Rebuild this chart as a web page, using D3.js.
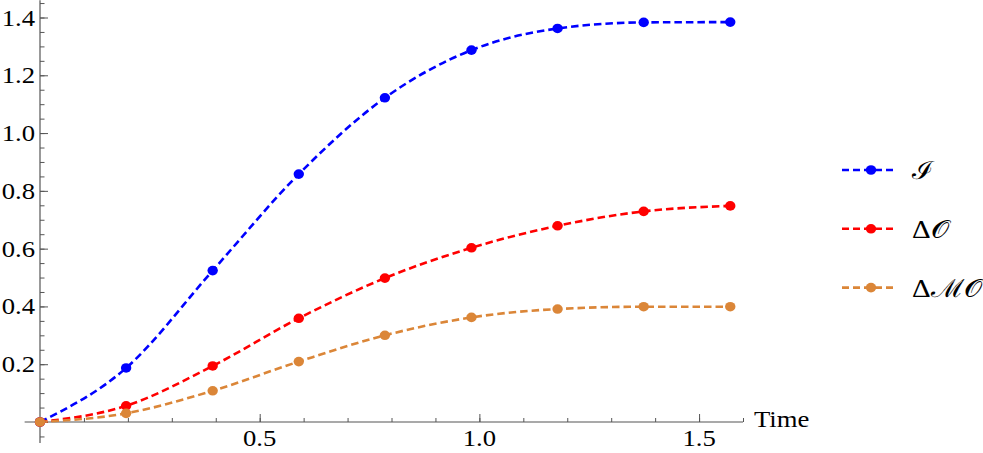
<!DOCTYPE html>
<html>
<head>
<meta charset="utf-8">
<script src="https://cdn.jsdelivr.net/npm/d3@7"></script>
<style>
  html, body { margin: 0; padding: 0; background: #fff; }
  svg { display: block; }
  .tick-label { font-family: "Liberation Serif", "DejaVu Serif", serif; font-size: 23px; fill: #000; }
  .legend-label { font-family: "Liberation Serif", "DejaVu Serif", serif; font-size: 25px; fill: #000; }
</style>
</head>
<body>
<div id="chart"></div>
<script>
const times = [0, 0.196, 0.393, 0.589, 0.785, 0.982, 1.178, 1.374, 1.571];
const valuesI = [0, 0.187, 0.524, 0.858, 1.122, 1.287, 1.362, 1.383, 1.384];
const valuesDeltaO = [0, 0.056, 0.194, 0.359, 0.498, 0.603, 0.679, 0.729, 0.748];
const valuesDeltaMO = [0, 0.030, 0.108, 0.209, 0.300, 0.362, 0.391, 0.399, 0.399];
// [upright prefix, script symbol]
const seriesNames = [["", "\u2110"], ["\u0394", "\uD835\uDCAA"], ["\u0394", "\u2133\uD835\uDCAA"]];
const seriesColors = ["#0000ff", "#ff0000", "#db8638"];
const yTickLabels = [0.2, 0.4, 0.6, 0.8, 1.0, 1.2, 1.4];
const xTickLabels = [0.5, 1.0, 1.5];
const xAxisTitle = "Time";

const width = 983;
const height = 453;
const stretch = 1.16;
const axisColor = "#555";

const series = [valuesI, valuesDeltaO, valuesDeltaMO].map((values, i) => ({
  name: seriesNames[i],
  color: seriesColors[i],
  points: values.map((v, j) => ({ t: times[j], v })),
}));

const x = d3.scaleLinear().domain([0, 1.6]).range([40, 743]);
const y = d3.scaleLinear().domain([0, 1.4]).range([422, 17.5]);

const svg = d3.select("#chart")
  .append("svg")
  .attr("width", width)
  .attr("height", height);

// axes: inward ticks, minor + major
const axes = svg.append("g").attr("class", "axes");

const yMinor = d3.range(-1, 30).map((d) => d * 0.05);
const yMajor = d3.range(0, 8).map((d) => d * 0.2);
const xMinor = d3.range(1, 17).map((d) => d * 0.1);
const xMajor = [0.5, 1.0, 1.5];

function tickAxis(g, axis) {
  g.call(axis);
  g.select(".domain").remove();
  g.selectAll(".tick text").remove();
  g.selectAll(".tick line").attr("stroke", axisColor).attr("stroke-width", 1);
}

axes.append("g")
  .attr("transform", `translate(${x(0)},0)`)
  .call(tickAxis, d3.axisLeft(y).tickValues(yMinor).tickSize(-4.5).tickFormat(""));
axes.append("g")
  .attr("transform", `translate(${x(0)},0)`)
  .call(tickAxis, d3.axisLeft(y).tickValues(yMajor).tickSize(-8).tickFormat(""));
axes.append("g")
  .attr("transform", `translate(0,${y(0)})`)
  .call(tickAxis, d3.axisBottom(x).tickValues(xMinor).tickSize(-4).tickFormat(""));
axes.append("g")
  .attr("transform", `translate(0,${y(0)})`)
  .call(tickAxis, d3.axisBottom(x).tickValues(xMajor).tickSize(-8).tickFormat(""));

axes.append("line")
  .attr("x1", x(0)).attr("x2", x(0))
  .attr("y1", y(1.46)).attr("y2", y(-0.073))
  .attr("stroke", axisColor).attr("stroke-width", 1.2);
axes.append("line")
  .attr("x1", x(-0.035)).attr("x2", x(1.6))
  .attr("y1", y(0)).attr("y2", y(0))
  .attr("stroke", axisColor).attr("stroke-width", 1.2);

// stretched text helper (reference glyphs are wider than the font)
function stretchedText(g, tx, ty, str, anchor, cls) {
  return g.append("text")
    .attr("class", cls)
    .attr("transform", `translate(${tx},${ty}) scale(${stretch},1)`)
    .attr("text-anchor", anchor)
    .text(str);
}

const fmt = d3.format(".1f");
yTickLabels.forEach((d) => {
  stretchedText(axes, x(0) - 5, y(d) + 8, fmt(d), "end", "tick-label");
});
xTickLabels.forEach((d) => {
  stretchedText(axes, x(d), 446, fmt(d), "middle", "tick-label");
});
stretchedText(axes, 754, 427, xAxisTitle, "start", "tick-label");

// curves
const line = d3.line()
  .x((d) => x(d.t))
  .y((d) => y(d.v))
  .curve(d3.curveMonotoneX);

const plot = svg.append("g").attr("class", "plot");

plot.selectAll(".series-line")
  .data(series)
  .join("path")
  .attr("class", "series-line")
  .attr("fill", "none")
  .attr("stroke", (d) => d.color)
  .attr("stroke-width", 2.6)
  .attr("stroke-dasharray", "7.5,4")
  .attr("d", (d) => line(d.points));

plot.selectAll(".series-dots")
  .data(series)
  .join("g")
  .attr("class", "series-dots")
  .attr("fill", (d) => d.color)
  .selectAll("ellipse")
  .data((d) => d.points)
  .join("ellipse")
  .attr("cx", (d) => x(d.t))
  .attr("cy", (d) => y(d.v))
  .attr("rx", 5.2)
  .attr("ry", 4.8);

// legend
const legend = svg.append("g").attr("class", "legend");
const legendItem = legend.selectAll(".legend-item")
  .data(series)
  .join("g")
  .attr("class", "legend-item")
  .attr("transform", (d, i) => `translate(842,${170 + i * 58.8})`);

legendItem.append("line")
  .attr("x1", 0).attr("x2", 54)
  .attr("stroke", (d) => d.color)
  .attr("stroke-width", 2.6)
  .attr("stroke-dasharray", "7,4");
legendItem.append("ellipse")
  .attr("cx", 29).attr("rx", 5.2).attr("ry", 4.8)
  .attr("fill", (d) => d.color);
legendItem.each(function (d) {
  const t = stretchedText(d3.select(this), 70, 9, null, "start", "legend-label");
  t.append("tspan").text(d.name[0]);
  t.append("tspan").style("font-weight", 300).text(d.name[1]);
});
</script>
</body>
</html>
